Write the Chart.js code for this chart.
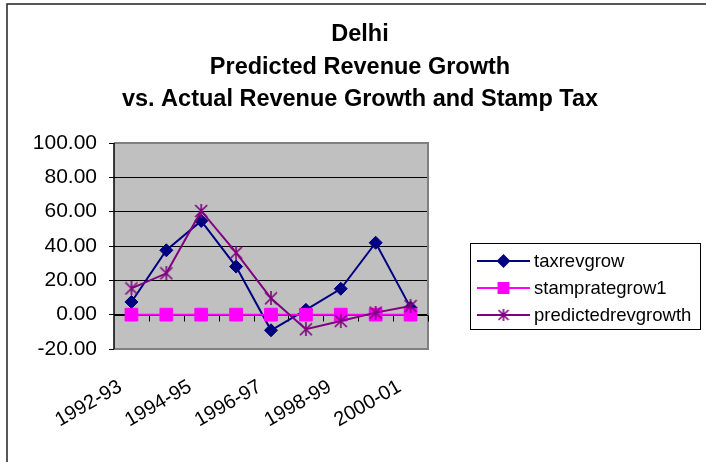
<!DOCTYPE html>
<html>
<head>
<meta charset="utf-8">
<script src="https://cdn.jsdelivr.net/npm/chart.js@4/dist/chart.umd.min.js"></script>
<style>
  html, body { margin: 0; padding: 0; background: #ffffff; }
  #wrap { width: 706px; height: 462px; position: relative; }
</style>
</head>
<body>
<div id="wrap"><canvas id="c" width="706" height="462"></canvas></div>
<script>
// ---- data ----
const categories = ["1992-93","1993-94","1994-95","1995-96","1996-97","1997-98","1998-99","1999-00","2000-01"];
const taxrevgrow = [7.4, 37.5, 54.6, 28.0, -9.1, 2.8, 15.1, 41.9, 4.1];
const stamprategrow1 = [0, 0, 0, 0, 0, 0, 0, 0, 0];
const predictedrevgrowth = [15.3, 24.1, 60.4, 36.1, 9.5, -8.5, -3.7, 1.2, 5.0];
const seriesNames = ["taxrevgrow", "stamprategrow1", "predictedrevgrowth"];
const titleLines = ["Delhi", "Predicted Revenue Growth", "vs. Actual Revenue Growth and Stamp Tax"];
const yTicks = [-20, 0, 20, 40, 60, 80, 100];

Chart.defaults.font.family = "'Liberation Sans', Arial, sans-serif";
Chart.defaults.color = "#000000";

function makeStar(size, color) {
  const cv = document.createElement('canvas');
  cv.width = size; cv.height = size;
  const g = cv.getContext('2d');
  g.strokeStyle = color; g.lineWidth = 1.6;
  const m = 1;
  g.beginPath();
  g.moveTo(m, m); g.lineTo(size - m, size - m);
  g.moveTo(size - m, m); g.lineTo(m, size - m);
  g.moveTo(size / 2, 0); g.lineTo(size / 2, size);
  g.stroke();
  return cv;
}
const starBig = makeStar(14, '#800080');
const starSmall = makeStar(12, '#800080');

const colors = ['#000080', '#FF00FF', '#800080'];

const decor = {
  id: 'decor',
  beforeDraw(chart) {
    const {ctx, chartArea: a} = chart;
    ctx.save();
    ctx.fillStyle = '#C0C0C0';
    ctx.fillRect(a.left, a.top, a.right - a.left, a.bottom - a.top);
    ctx.restore();
  },
  beforeDatasetsDraw(chart) {
    const {ctx, chartArea: a, scales} = chart;
    const y0 = Math.round(scales.y.getPixelForValue(0)) + 0.5;
    const n = categories.length;
    const w = (a.right - a.left) / n;
    ctx.save();
    // plot border
    ctx.strokeStyle = '#808080';
    ctx.lineWidth = 2;
    ctx.beginPath();
    ctx.moveTo(a.left, a.top); ctx.lineTo(a.right, a.top); ctx.lineTo(a.right, a.bottom); ctx.lineTo(a.left, a.bottom);
    ctx.stroke();
    // y axis line
    ctx.strokeStyle = '#000000';
    ctx.lineWidth = 1.5;
    ctx.beginPath();
    ctx.moveTo(a.left, a.top); ctx.lineTo(a.left, a.bottom);
    ctx.stroke();
    // category axis at zero
    ctx.lineWidth = 1;
    ctx.beginPath();
    ctx.moveTo(a.left, y0); ctx.lineTo(a.right, y0);
    for (let k = 1; k <= n; k++) {
      const x = Math.round(a.left + k * w) + 0.5;
      ctx.moveTo(x, y0); ctx.lineTo(x, y0 + 6);
    }
    ctx.stroke();
    ctx.restore();
  },
  afterDraw(chart) {
    const {ctx} = chart;
    ctx.save();
    // outer frame (top & left)
    ctx.strokeStyle = '#222222';
    ctx.lineWidth = 1.5;
    ctx.beginPath();
    ctx.moveTo(7, 462); ctx.lineTo(7, 4); ctx.lineTo(706, 4);
    ctx.stroke();
    // legend
    const lx = 470.5, ly = 243.5, lw = 230, lh = 86;
    ctx.fillStyle = '#ffffff';
    ctx.fillRect(lx, ly, lw, lh);
    ctx.strokeStyle = '#000000';
    ctx.lineWidth = 1;
    ctx.strokeRect(lx, ly, lw, lh);
    const ys = [261, 288, 315];
    chart.data.datasets.forEach((ds, i) => {
      const y = ys[i];
      ctx.strokeStyle = ds.borderColor;
      ctx.lineWidth = 2;
      ctx.beginPath();
      ctx.moveTo(477, y); ctx.lineTo(530, y);
      ctx.stroke();
      ctx.fillStyle = ds.backgroundColor;
      ctx.strokeStyle = ds.borderColor;
      const ps = i === 2 ? starSmall : ds.pointStyle;
      const r = i === 0 ? 5.5 : (i === 1 ? 7 : 6);
      Chart.helpers.drawPoint(ctx, {pointStyle: ps, radius: r, rotation: 0, borderWidth: 1}, 503.5, y);
      ctx.fillStyle = '#000000';
      ctx.font = "18.5px 'Liberation Sans', Arial, sans-serif";
      ctx.textBaseline = 'middle';
      ctx.textAlign = 'left';
      ctx.fillText(seriesNames[i], 534, y + 1);
    });
    ctx.restore();
  }
};

new Chart(document.getElementById('c'), {
  type: 'line',
  data: {
    labels: categories,
    datasets: [
      { label: seriesNames[0], data: taxrevgrow, borderColor: colors[0], backgroundColor: colors[0],
        borderWidth: 2, pointStyle: 'rectRot', pointRadius: 6.5, pointBorderWidth: 1, order: 3, tension: 0 },
      { label: seriesNames[1], data: stamprategrow1, borderColor: colors[1], backgroundColor: colors[1],
        borderWidth: 2, pointStyle: 'rect', pointRadius: 9, pointBorderWidth: 1, order: 2, tension: 0 },
      { label: seriesNames[2], data: predictedrevgrowth, borderColor: colors[2], backgroundColor: colors[2],
        borderWidth: 2, pointStyle: starBig, pointRadius: 7, order: 1, tension: 0 }
    ]
  },
  options: {
    responsive: false,
    animation: false,
    events: [],
    layout: { padding: { left: 14, right: 0, top: 0, bottom: 0 } },
    plugins: {
      legend: { display: false },
      tooltip: { enabled: false },
      title: {
        display: true,
        text: titleLines,
        color: '#000000',
        font: { size: 23.5, weight: 'bold', lineHeight: 1.383 },
        padding: { top: 18.5, bottom: 27 }
      }
    },
    scales: {
      x: {
        type: 'category',
        offset: true,
        grid: { display: false, drawTicks: false },
        border: { display: false },
        ticks: {
          autoSkip: false,
          maxRotation: 30, minRotation: 30,
          padding: 26,
          labelOffset: -11,
          font: { size: 20 },
          color: '#000000',
          callback: function(v, i) { return i % 2 === 0 ? categories[i] : ''; }
        },
        afterFit(s) { s.height = 113; }
      },
      y: {
        min: yTicks[0], max: yTicks[yTicks.length - 1],
        grid: { color: '#000000', lineWidth: 1, tickLength: 5, drawTicks: true },
        border: { display: false },
        ticks: {
          stepSize: 20,
          padding: 12,
          font: { size: 21 },
          color: '#000000',
          callback: v => v.toFixed(2)
        },
        afterFit(s) { s.width = 100; }
      },
      yR: {
        type: 'linear',
        position: 'right',
        display: true,
        grid: { display: false, drawTicks: false },
        border: { display: false },
        ticks: { display: false },
        afterFit(s) { s.width = 278; }
      }
    }
  },
  plugins: [decor]
});
</script>
</body>
</html>
